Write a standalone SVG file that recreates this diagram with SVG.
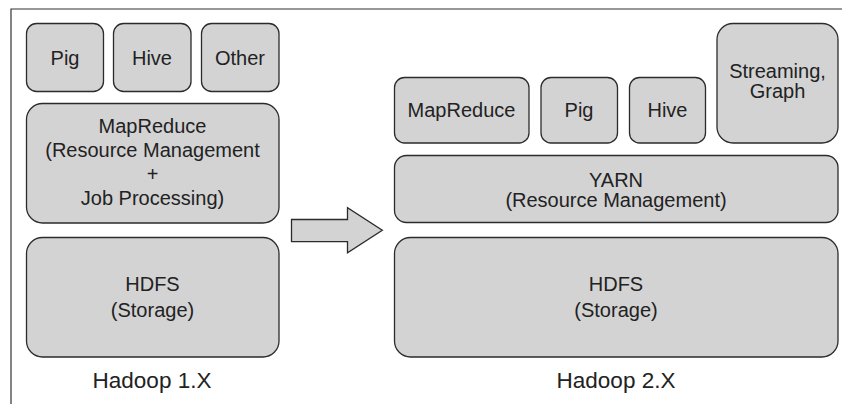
<svg xmlns="http://www.w3.org/2000/svg" width="842" height="404" viewBox="0 0 842 404">
<style>
.box{fill:#d3d3d4;stroke:#2b2b2b;stroke-width:1.3}
.t{font-family:"Liberation Sans",Arial,sans-serif;font-size:20px;fill:#222;text-anchor:middle}
.lbl{font-size:22.5px}
.frame{fill:none;stroke:#333;stroke-width:1.2}
</style>
<rect width="842" height="404" fill="#fff"/>
<path class="frame" d="M11,404 V9 H842"/>
<g id="pig1"><rect class="box" x="26.5" y="23.5" width="77" height="68" rx="10"/><text class="t" x="65" y="65">Pig</text></g>
<g id="hive1"><rect class="box" x="113.5" y="23.5" width="77.5" height="68" rx="10"/><text class="t" x="152" y="65">Hive</text></g>
<g id="other1"><rect class="box" x="201.5" y="23.5" width="77.5" height="68" rx="10"/><text class="t" x="240" y="65">Other</text></g>
<g id="mapreduce1"><rect class="box" x="26.5" y="103.5" width="252.5" height="119.5" rx="16"/>
<text class="t" x="152.5" y="133">MapReduce</text>
<text class="t" x="152.5" y="157">(Resource Management</text>
<text class="t" x="152.5" y="181">+</text>
<text class="t" x="152.5" y="205">Job Processing)</text></g>
<g id="hdfs1"><rect class="box" x="26.5" y="237.5" width="252.5" height="119.5" rx="16"/>
<text class="t" x="152.5" y="291">HDFS</text>
<text class="t" x="152.5" y="317">(Storage)</text></g>
<text class="t lbl" x="152" y="388">Hadoop 1.X</text>
<g id="connectors"><path class="box" d="M291.5,219.5 H347.5 V207.7 L382.3,230.3 L347.5,252.7 V241.7 H291.5 Z"/></g>
<g id="mapreduce2"><rect class="box" x="394.5" y="77.5" width="134.5" height="65.5" rx="10"/><text class="t" x="461.5" y="117">MapReduce</text></g>
<g id="pig2"><rect class="box" x="541" y="77.5" width="76.5" height="65.5" rx="10"/><text class="t" x="579" y="117">Pig</text></g>
<g id="hive2"><rect class="box" x="629.5" y="77.5" width="76" height="65.5" rx="10"/><text class="t" x="667.5" y="117">Hive</text></g>
<g id="streaming"><rect class="box" x="717" y="23.5" width="121" height="119.5" rx="16"/>
<text class="t" x="777.5" y="78">Streaming,</text>
<text class="t" x="777.5" y="98">Graph</text></g>
<g id="yarn"><rect class="box" x="394.5" y="155.5" width="443.5" height="67" rx="12"/>
<text class="t" x="616" y="187">YARN</text>
<text class="t" x="616" y="207">(Resource Management)</text></g>
<g id="hdfs2"><rect class="box" x="394.5" y="237.5" width="443.5" height="119.5" rx="16"/>
<text class="t" x="616" y="291">HDFS</text>
<text class="t" x="616" y="317">(Storage)</text></g>
<text class="t lbl" x="616" y="388">Hadoop 2.X</text>
</svg>
